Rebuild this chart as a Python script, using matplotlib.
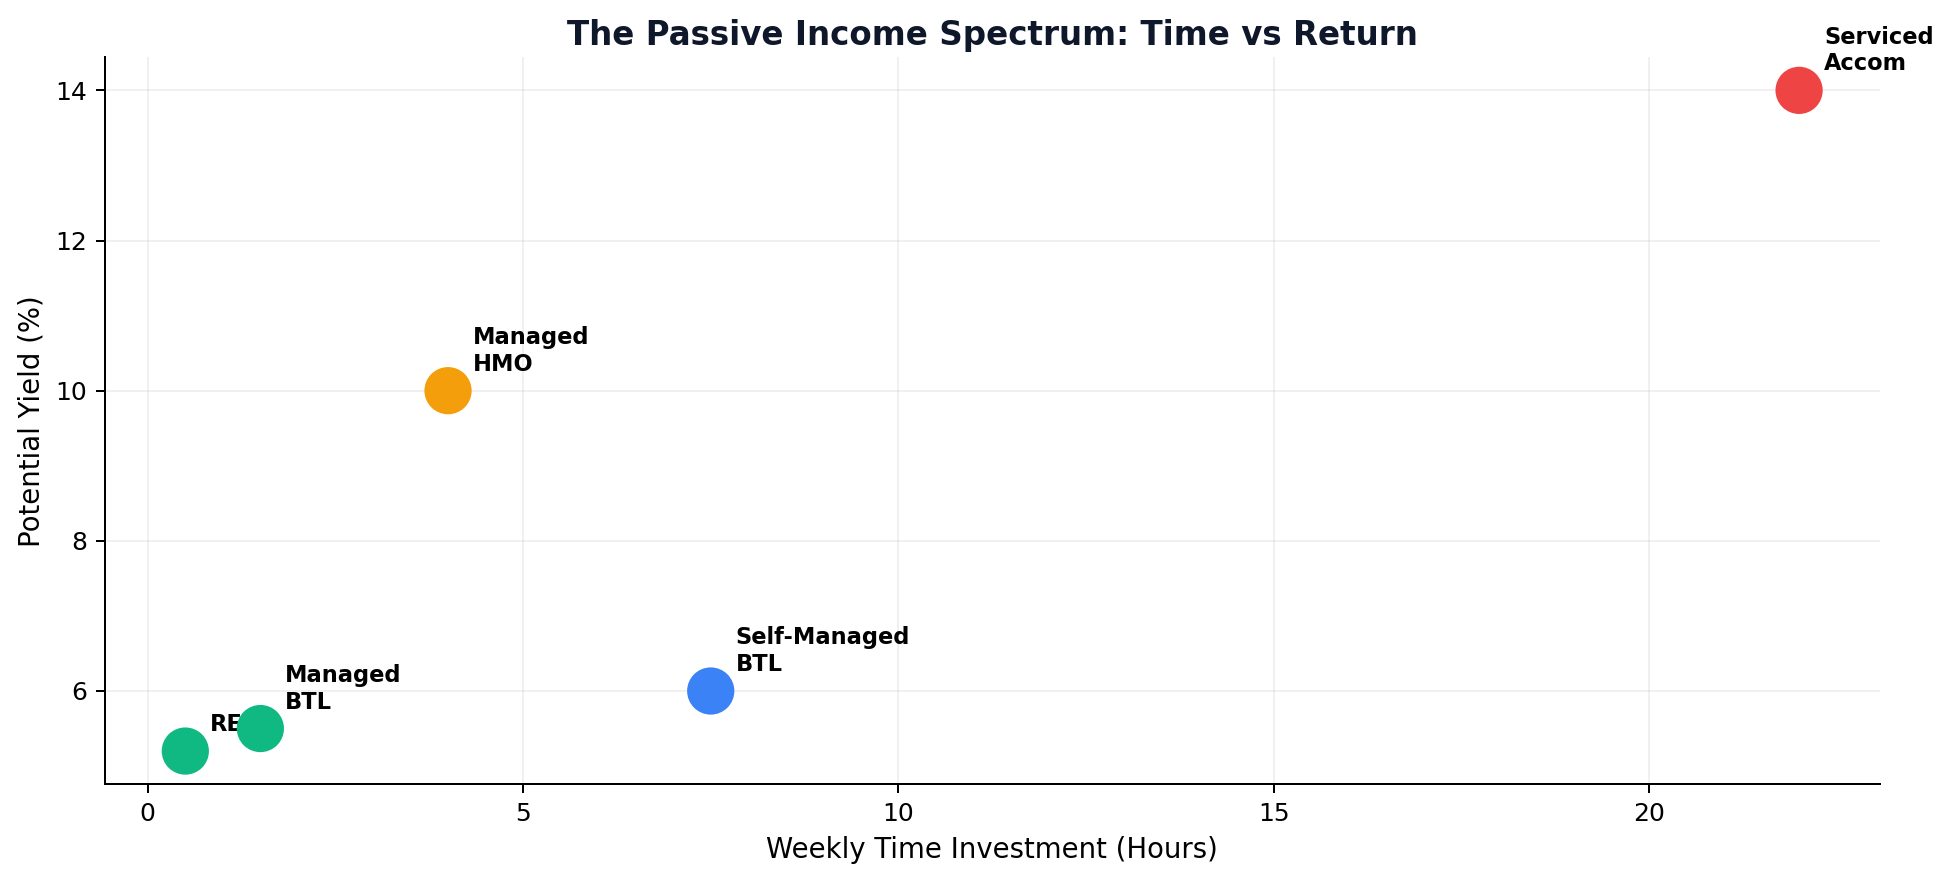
import matplotlib
matplotlib.use("Agg")
import matplotlib.pyplot as plt

names = ["REIT", "Managed\nBTL", "Managed\nHMO", "Self-Managed\nBTL", "Serviced\nAccom"]
hours = [0.5, 1.5, 4, 7.5, 22]
yields = [5.2, 5.5, 10, 6, 14]
colors = ["#10b981", "#10b981", "#f59e0b", "#3b82f6", "#ef4444"]

fig, ax = plt.subplots(figsize=(1952 / 180, 882 / 180), dpi=180)

for name, x, y in zip(names, hours, yields):
    ax.annotate(name, (x, y), xytext=(10, 8), textcoords="offset points",
                fontsize=9, fontweight="bold", zorder=2)

ax.scatter(hours, yields, s=320, c=colors, zorder=3)

ax.set_title("The Passive Income Spectrum: Time vs Return",
             fontsize=13, fontweight="bold", color="#0f172a", pad=5)
ax.set_xlabel("Weekly Time Investment (Hours)", fontsize=11)
ax.set_ylabel("Potential Yield (%)", fontsize=11)
ax.tick_params(labelsize=10)
ax.grid(True, alpha=0.18)
ax.spines["top"].set_visible(False)
ax.spines["right"].set_visible(False)

fig.subplots_adjust(left=0.0536, right=0.963, top=0.935, bottom=0.111)
fig.savefig("out.png", dpi=180)
